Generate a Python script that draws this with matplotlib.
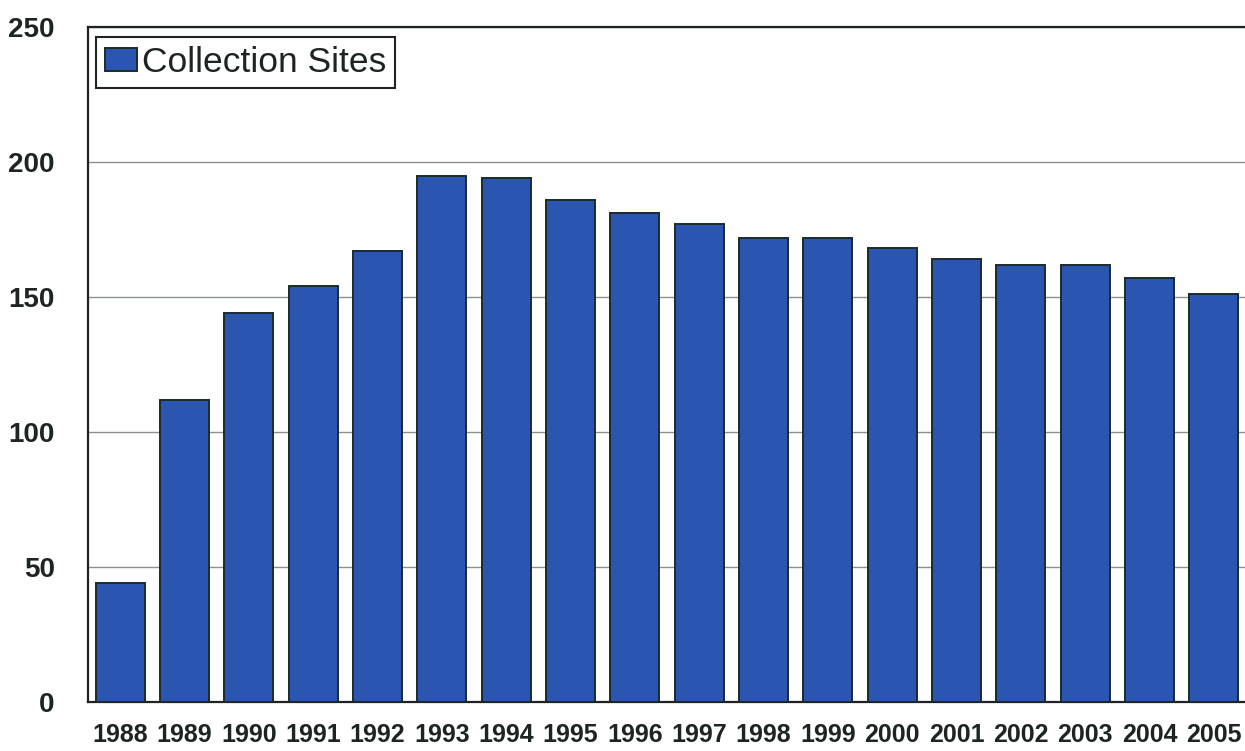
import matplotlib
matplotlib.use("Agg")
from matplotlib import pyplot as plt

years = ['1988', '1989', '1990', '1991', '1992', '1993', '1994', '1995', '1996',
         '1997', '1998', '1999', '2000', '2001', '2002', '2003', '2004', '2005']
sites = [44, 112, 144, 154, 167, 195, 194, 186, 181,
         177, 172, 172, 168, 164, 162, 162, 157, 151]
y_ticks = [0, 50, 100, 150, 200, 250]

W, H = 1245, 751
dark = '#1e2424'
plt.rcParams['font.family'] = ['Liberation Sans', 'DejaVu Sans']

fig = plt.figure(figsize=(W / 100, H / 100), dpi=100)
# axes run to the right edge, as in the scan (no right border shows)
ax = fig.add_axes([88 / W, (H - 702) / H, 1158 / W, 675 / H])

x = list(range(len(years)))
ax.bar(x, sites, width=0.76, color='#2a56b2', edgecolor='#1c2a2a',
       linewidth=1.4, zorder=3, label='Collection Sites')

ax.set_xlim(-0.5, len(years) - 0.5)
ax.set_ylim(0, 250)
ax.set_yticks(y_ticks)
ax.set_xticks(x)
ax.set_xticklabels(years)
ax.yaxis.grid(True, color='#8a8f8f', linewidth=1.0, zorder=0)
ax.set_axisbelow(True)

for s in ['left', 'bottom', 'top']:
    ax.spines[s].set_color(dark)
    ax.spines[s].set_linewidth(1.6)
ax.spines['right'].set_visible(False)

ax.tick_params(axis='y', length=0, pad=24, labelsize=20, labelcolor=dark)
ax.tick_params(axis='x', length=0, pad=15, labelsize=18, labelcolor=dark)
for lab in ax.get_xticklabels() + ax.get_yticklabels():
    lab.set_fontweight('bold')

leg = ax.legend(loc='upper left', bbox_to_anchor=(8 / 1158, 1 - 10 / 675),
                borderaxespad=0, fontsize=25.5, frameon=True, fancybox=False,
                shadow=False, handlelength=0.9, handleheight=0.62,
                handletextpad=0.15, borderpad=0.25)
leg.get_frame().set_edgecolor(dark)
leg.get_frame().set_linewidth(1.5)
leg.get_frame().set_alpha(1)
for t in leg.get_texts():
    t.set_color(dark)

fig.savefig('out.png', dpi=100)
